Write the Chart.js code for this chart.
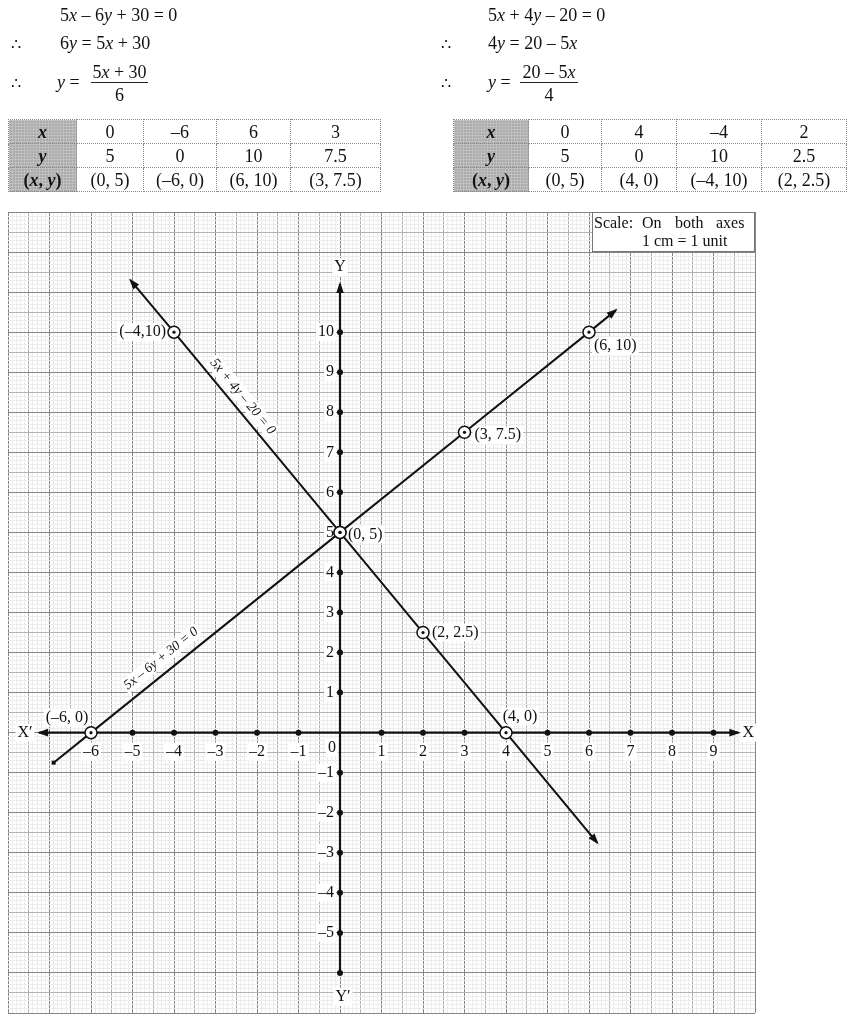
<!DOCTYPE html>
<html>
<head>
<meta charset="utf-8">
<script src="https://cdn.jsdelivr.net/npm/chart.js@4/dist/chart.umd.min.js"></script>
<style>
  body { margin: 0; background: #fff; font-family: "Liberation Serif", "DejaVu Serif", serif; color: #111; }
  #chart { position: absolute; left: 0; top: 0; }
  .eq { position: absolute; font-size: 18px; line-height: 20px; white-space: nowrap; }
  .therefore { position: absolute; font-size: 16px; line-height: 20px; }
  .frac { position: absolute; font-size: 18px; text-align: center; }
  .frac .num { line-height: 20px; border-bottom: 1px solid #222; padding: 0 1px; }
  .frac .den { line-height: 24px; }
  table.tv { position: absolute; border-collapse: collapse; table-layout: fixed; font-size: 18px; }
  table.tv td { border: 1px dotted #888; height: 23px; padding: 0; text-align: center; line-height: 22px; }
  table.tv td.hd { background-color: #c6c6c6;
    background-image: radial-gradient(#7d7d7d 0.7px, transparent 1.1px);
    background-size: 3px 3px; font-weight: bold; }
</style>
</head>
<body>
<canvas id="chart" width="866" height="1031"></canvas>

<div class="eq" style="left:60px;top:5px">5<i>x</i> – 6<i>y</i> + 30 = 0</div>
<div class="therefore" style="left:11px;top:35px">∴</div>
<div class="eq" style="left:60px;top:33px">6<i>y</i> = 5<i>x</i> + 30</div>
<div class="therefore" style="left:11px;top:74px">∴</div>
<div class="eq" style="left:57px;top:72px"><i>y</i> =</div>
<div class="frac" style="left:91px;top:62px;width:57px"><div class="num">5<i>x</i> + 30</div><div class="den">6</div></div>

<div class="eq" style="left:488px;top:5px">5<i>x</i> + 4<i>y</i> – 20 = 0</div>
<div class="therefore" style="left:441px;top:35px">∴</div>
<div class="eq" style="left:488px;top:33px">4<i>y</i> = 20 – 5<i>x</i></div>
<div class="therefore" style="left:441px;top:74px">∴</div>
<div class="eq" style="left:488px;top:72px"><i>y</i> =</div>
<div class="frac" style="left:520px;top:62px;width:58px"><div class="num">20 – 5<i>x</i></div><div class="den">4</div></div>

<table class="tv" id="table1" style="left:8px;top:119px;width:372px"></table>
<table class="tv" id="table2" style="left:453px;top:119px;width:393px"></table>

<script>
// table values for 5x - 6y + 30 = 0
const line1X = [0, -6, 6, 3];
const line1Y = [5, 0, 10, 7.5];
// table values for 5x + 4y - 20 = 0
const line2X = [0, 4, -4, 2];
const line2Y = [5, 0, 10, 2.5];

// drawn extent of each line
const line1PathX = [-6.9, -6, 0, 3, 6, 6.65];
const line1PathY = [-0.75, 0, 5, 7.5, 10, 10.55];
const line2PathX = [-5.05, -4, 0, 2, 4, 6.2];
const line2PathY = [11.3, 10, 5, 2.5, 0, -2.75];

// axes
const xAxisEnds = [-7.25, 9.6];
const yAxisEnds = [-6, 11.2];
const xTickDots = [-5, -4, -3, -2, -1, 1, 2, 3, 5, 6, 7, 8, 9];
const yTickDots = [-6, -5, -4, -3, -2, -1, 1, 2, 3, 4, 6, 7, 8, 9, 10];
const xTickLabels = [-6, -5, -4, -3, -2, -1, 1, 2, 3, 4, 5, 6, 7, 8, 9];
const yTickLabels = [-5, -4, -3, -2, -1, 1, 2, 3, 4, 5, 6, 7, 8, 9, 10];

// labels beside the plotted points
const pointLabels = [
  { x: -4, y: 10, text: '(–4,10)', dx: -8, dy: 0, align: 'right' },
  { x: 6, y: 10, text: '(6, 10)', dx: 5, dy: 14, align: 'left' },
  { x: 3, y: 7.5, text: '(3, 7.5)', dx: 10, dy: 3, align: 'left' },
  { x: 0, y: 5, text: '(0, 5)', dx: 8, dy: 2, align: 'left' },
  { x: 2, y: 2.5, text: '(2, 2.5)', dx: 9, dy: 0, align: 'left' },
  { x: -6, y: 0, text: '(–6, 0)', dx: -24, dy: -15, align: 'center' },
  { x: 4, y: 0, text: '(4, 0)', dx: 14, dy: -16, align: 'center' }
];

function fmt(v) { return v < 0 ? '–' + Math.abs(v) : String(v); }

function buildTable(id, xs, ys, widths) {
  const t = document.getElementById(id);
  let html = '<colgroup>' + widths.map(w => '<col style="width:' + w + 'px">').join('') + '</colgroup>';
  const rows = [
    ['<i>x</i>', xs.map(fmt)],
    ['<i>y</i>', ys.map(fmt)],
    ['(<i>x</i>, <i>y</i>)', xs.map((v, i) => '(' + fmt(v) + ', ' + fmt(ys[i]) + ')')]
  ];
  rows.forEach(r => {
    html += '<tr><td class="hd">' + r[0] + '</td>' + r[1].map(c => '<td>' + c + '</td>').join('') + '</tr>';
  });
  t.innerHTML = html;
}
buildTable('table1', line1X, line1Y, [68, 67, 73, 74, 90]);
buildTable('table2', line2X, line2Y, [75, 73, 75, 85, 85]);

function gridKind(v) {
  if (Math.abs(v - Math.round(v)) < 1e-6) return 2;
  if (Math.abs(v * 2 - Math.round(v * 2)) < 1e-6) return 1;
  return 0;
}
const gridColors = ['#ececec', '#b4b4b4', '#858585'];

function toPts(xs, ys) { return xs.map((v, i) => ({ x: v, y: ys[i] })); }

const SERIF = '"Liberation Serif", "DejaVu Serif", serif';

function boxText(ctx, str, px, py, align, font) {
  ctx.font = font;
  const w = ctx.measureText(str).width;
  const left = align === 'left' ? px : align === 'right' ? px - w : px - w / 2;
  ctx.fillStyle = '#fff';
  ctx.fillRect(left - 2, py - 9, w + 4, 18);
  ctx.fillStyle = '#111';
  ctx.textAlign = 'left';
  ctx.textBaseline = 'middle';
  ctx.fillText(str, left, py);
}

function arrowHead(ctx, x0, y0, x1, y1) {
  const a = Math.atan2(y1 - y0, x1 - x0);
  ctx.save();
  ctx.translate(x1, y1);
  ctx.rotate(a);
  ctx.beginPath();
  ctx.moveTo(2, 0);
  ctx.lineTo(-9, -3.8);
  ctx.lineTo(-9, 3.8);
  ctx.closePath();
  ctx.fillStyle = '#111';
  ctx.fill();
  ctx.restore();
}

const paperPlugin = {
  id: 'paperPlugin',
  beforeDatasetsDraw(chart) {
    const { ctx, scales: { x, y } } = chart;
    const x0 = x.getPixelForValue(0), y0 = y.getPixelForValue(0);
    ctx.save();
    const f16 = '16px ' + SERIF;
    xTickLabels.forEach(v => boxText(ctx, fmt(v), x.getPixelForValue(v), y0 + 19, 'center', f16));
    yTickLabels.forEach(v => boxText(ctx, fmt(v), x0 - 6, y.getPixelForValue(v), 'right', f16));
    boxText(ctx, '0', x0 - 8, y0 + 15, 'center', f16);
    boxText(ctx, 'X′', 25, y0, 'center', f16);
    boxText(ctx, 'X', x.getPixelForValue(xAxisEnds[1]) + 10, y0, 'center', f16);
    boxText(ctx, 'Y', x0, y.getPixelForValue(yAxisEnds[1]) - 17, 'center', f16);
    boxText(ctx, 'Y′', x0 + 3, y.getPixelForValue(yAxisEnds[0]) + 24, 'center', f16);

    pointLabels.forEach(p => boxText(ctx, p.text, x.getPixelForValue(p.x) + p.dx, y.getPixelForValue(p.y) + p.dy, p.align, f16));

    // equation labels along the lines
    const lineLabel = (xs, ys, ax, ay, off, str, size) => {
      const a = Math.atan2(y.getPixelForValue(ys[ys.length - 1]) - y.getPixelForValue(ys[0]),
                           x.getPixelForValue(xs[xs.length - 1]) - x.getPixelForValue(xs[0]));
      ctx.save();
      ctx.translate(x.getPixelForValue(ax), y.getPixelForValue(ay));
      ctx.rotate(a);
      ctx.font = 'italic ' + size + 'px ' + SERIF;
      const w = ctx.measureText(str).width;
      ctx.fillStyle = '#fff';
      ctx.fillRect(-w / 2 - 2, off - size / 2 - 1, w + 4, size + 2);
      ctx.fillStyle = '#111';
      ctx.textAlign = 'center';
      ctx.textBaseline = 'middle';
      ctx.fillText(str, 0, off);
      ctx.restore();
    };
    lineLabel(line2PathX, line2PathY, -2.57, 8.2, -12, '5x + 4y – 20 = 0', 14);
    lineLabel(line1PathX, line1PathY, -4.1, 1.58, -14, '5x – 6y + 30 = 0', 13.5);
    ctx.restore();
  },
  afterDatasetsDraw(chart) {
    const { ctx, scales: { x, y } } = chart;
    const px = v => x.getPixelForValue(v), py = v => y.getPixelForValue(v);
    ctx.save();
    // arrows at the ends of the lines and axes
    const n1 = line1PathX.length - 1, n2 = line2PathX.length - 1;
    arrowHead(ctx, px(line1PathX[n1 - 1]), py(line1PathY[n1 - 1]), px(line1PathX[n1]), py(line1PathY[n1]));
    arrowHead(ctx, px(line2PathX[1]), py(line2PathY[1]), px(line2PathX[0]), py(line2PathY[0]));
    arrowHead(ctx, px(line2PathX[n2 - 1]), py(line2PathY[n2 - 1]), px(line2PathX[n2]), py(line2PathY[n2]));
    arrowHead(ctx, px(0), py(0), px(xAxisEnds[1]), py(0));
    arrowHead(ctx, px(0), py(0), px(xAxisEnds[0]), py(0));
    arrowHead(ctx, px(0), py(0), px(0), py(yAxisEnds[1]));
    ctx.fillStyle = '#111';
    ctx.fillRect(px(line1PathX[0]) - 2, py(line1PathY[0]) - 2, 4, 4);

    // scale box
    const bx = 592, by = chart.chartArea.top, bw = chart.chartArea.right - 592, bh = 40;
    ctx.fillStyle = '#fff';
    ctx.fillRect(bx, by, bw, bh);
    ctx.strokeStyle = '#777';
    ctx.lineWidth = 1;
    ctx.strokeRect(bx + 0.5, by + 0.5, bw - 1, bh - 1);
    ctx.fillStyle = '#111';
    ctx.font = '16px ' + SERIF;
    ctx.textBaseline = 'middle';
    ctx.textAlign = 'left';
    [['Scale:', 594], ['On', 642], ['both', 675], ['axes', 716]].forEach(w => ctx.fillText(w[0], w[1], by + 12));
    ctx.fillText('1 cm = 1 unit', 642, by + 30);
    ctx.restore();
  }
};

const black = '#111';
new Chart(document.getElementById('chart'), {
  type: 'scatter',
  data: {
    datasets: [
      { data: toPts(line1X, line1Y), pointRadius: 1.6, pointBackgroundColor: black, pointBorderWidth: 0, order: 0 },
      { data: toPts(line2X, line2Y), pointRadius: 1.6, pointBackgroundColor: black, pointBorderWidth: 0, order: 0 },
      { data: toPts(line1X, line1Y), pointRadius: 6, pointBackgroundColor: '#fff', pointBorderColor: black, pointBorderWidth: 1.5, order: 1 },
      { data: toPts(line2X, line2Y), pointRadius: 6, pointBackgroundColor: '#fff', pointBorderColor: black, pointBorderWidth: 1.5, order: 1 },
      { data: xTickDots.map(v => ({ x: v, y: 0 })), pointRadius: 3, pointBackgroundColor: black, pointBorderWidth: 0, order: 2 },
      { data: yTickDots.map(v => ({ x: 0, y: v })), pointRadius: 3, pointBackgroundColor: black, pointBorderWidth: 0, order: 2 },
      { data: toPts(line1PathX, line1PathY), showLine: true, borderColor: black, borderWidth: 2, pointRadius: 0, order: 3 },
      { data: toPts(line2PathX, line2PathY), showLine: true, borderColor: black, borderWidth: 2, pointRadius: 0, order: 3 },
      { data: xAxisEnds.map(v => ({ x: v, y: 0 })), showLine: true, borderColor: black, borderWidth: 2.2, pointRadius: 0, order: 4 },
      { data: yAxisEnds.map(v => ({ x: 0, y: v })), showLine: true, borderColor: black, borderWidth: 2.2, pointRadius: 0, order: 4 }
    ]
  },
  options: {
    responsive: false,
    animation: false,
    devicePixelRatio: 1,
    layout: { padding: { left: 8, right: 111, top: 212, bottom: 18 } },
    plugins: { legend: { display: false }, tooltip: { enabled: false } },
    scales: {
      x: {
        type: 'linear', min: -8, max: 10,
        ticks: { stepSize: 0.1, display: false },
        grid: { drawTicks: false, color: c => c.tick ? gridColors[gridKind(c.tick.value)] : '#ccc' },
        border: { display: false }
      },
      y: {
        type: 'linear', min: -7, max: 13,
        ticks: { stepSize: 0.1, display: false },
        grid: { drawTicks: false, color: c => c.tick ? gridColors[gridKind(c.tick.value)] : '#ccc' },
        border: { display: false }
      }
    }
  },
  plugins: [paperPlugin]
});
</script>
</body>
</html>
